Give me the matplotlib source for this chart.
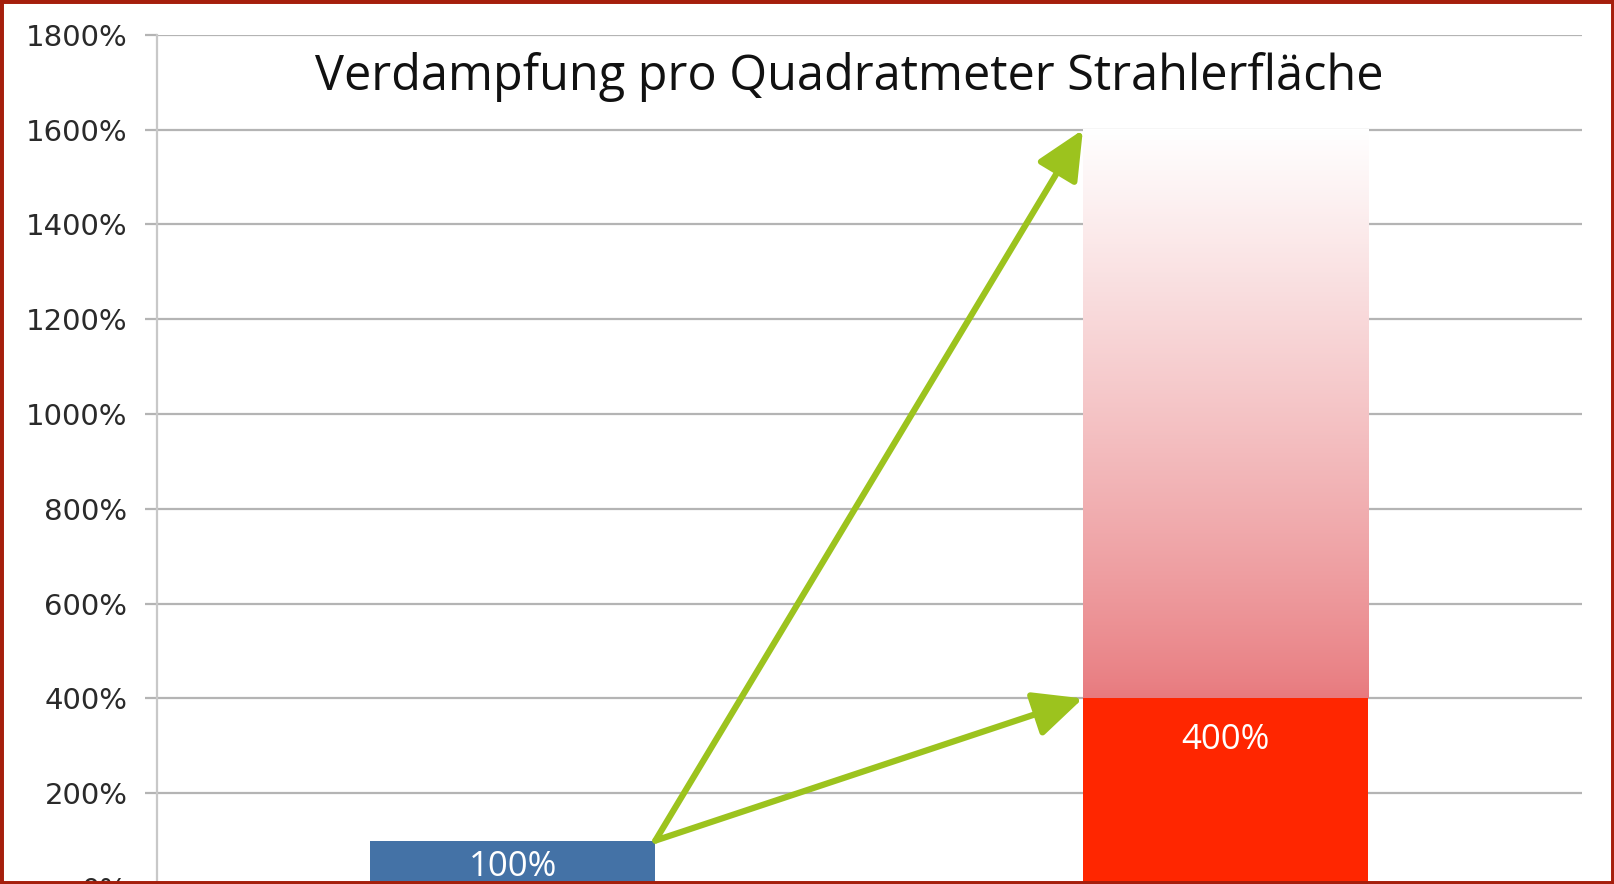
import numpy as np
import matplotlib
matplotlib.use("Agg")
import matplotlib.pyplot as plt
from matplotlib.patches import Rectangle

# data
categories = ["Standard", "Neu"]
values = [100, 400]
potential_top = 1600
value_labels = ["100%", "400%"]
yticks = [0, 200, 400, 600, 800, 1000, 1200, 1400, 1600, 1800]
title = "Verdampfung pro Quadratmeter Strahlerfläche"

blue = "#4472A6"
red = "#FF2600"
green = "#9CC31E"
grid_gray = "#B4B4B4"

fig = plt.figure(figsize=(16.14, 8.84), dpi=100)
ax = fig.add_axes([0.097, -0.0045, 0.883, 0.965])

x = np.arange(len(categories))
width = 0.4
ax.bar(x[0], values[0], width, color=blue, zorder=3)
ax.bar(x[1], values[1], width, color=red, zorder=3)

# faded part of the second bar (400% -> 1600%)
n = 256
t = np.linspace(0, 1, n)
start = np.array([232, 122, 126]) / 255.0
grad = np.ones((n, 1, 3))
for c in range(3):
    grad[:, 0, c] = start[c] + (1 - start[c]) * t ** 0.85
ax.imshow(grad, extent=[x[1] - width / 2, x[1] + width / 2, values[1], potential_top],
          origin="lower", aspect="auto", zorder=2, interpolation="bilinear")

# arrows from the top-right corner of the first bar
for target in [potential_top, values[1]]:
    ax.annotate("", xy=(x[1] - width / 2, target), xytext=(x[0] + width / 2, values[0]),
                arrowprops=dict(arrowstyle="-|>,head_length=3.0,head_width=1.4",
                                color=green, lw=4.5, shrinkA=0, shrinkB=0),
                zorder=4)

# value labels inside the bars
label_offsets = [-19, -30]
for xi, v, lab, off in zip(x, values, value_labels, label_offsets):
    ax.annotate(lab, (xi, v), xytext=(0, off), textcoords="offset points",
                ha="center", va="center", color="white", fontsize=25,
                family="Open Sans", zorder=5)

ax.set_xlim(-0.5, 1.5)
ax.set_ylim(0, 1800)
ax.set_yticks(yticks)
ax.set_yticklabels([f"{v}%" for v in yticks], fontsize=21, family="DejaVu Sans",
                   color="#2A2A2A")
ax.yaxis.grid(True, color=grid_gray, lw=1.6, zorder=0)
ax.set_axisbelow(True)
ax.tick_params(axis="y", length=9, width=1.6, color=grid_gray, pad=12)
ax.tick_params(axis="x", bottom=False, labelbottom=False)
for s in ["top", "right", "bottom"]:
    ax.spines[s].set_visible(False)
ax.spines["left"].set_color("#C8C8C8")
ax.spines["left"].set_linewidth(1.6)

fig.text(0.526, 0.913, title, ha="center", va="center", fontsize=35,
         family="Open Sans", color="#111111")

# dark red frame round the picture
fig.patches.append(Rectangle((0, 0), 1, 1, transform=fig.transFigure, fill=False,
                             edgecolor="#A51E0C", lw=5))

fig.savefig("out.png", dpi=100)
